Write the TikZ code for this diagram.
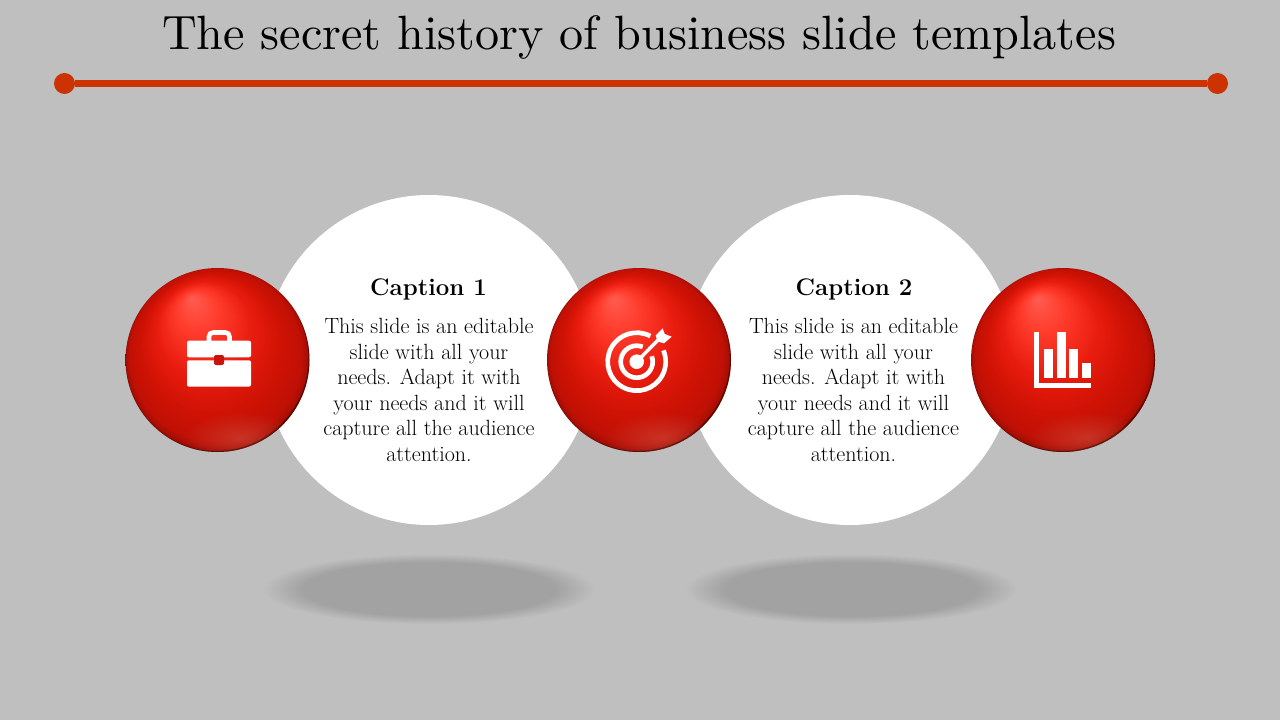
\documentclass[tikz,border=0pt]{standalone}
\usepackage{fontspec}
\newfontfamily\titlefont{lmroman10-regular.otf}
\usetikzlibrary{fadings}
\definecolor{slidegray}{HTML}{BFBFBF}
\definecolor{rulered}{HTML}{CC3300}
\definecolor{shadowgray}{HTML}{A2A2A2}
\definecolor{claspred}{HTML}{C8140A}
\definecolor{ballhigh}{HTML}{FF5C50}
\definecolor{ballglow}{HTML}{FF3A2A}
\definecolor{ballmid}{HTML}{E81C0E}
\definecolor{ballbase}{HTML}{CF1204}
\definecolor{ballside}{HTML}{C01005}
\definecolor{ballrim}{HTML}{A80E04}
\definecolor{balledge}{HTML}{7A0A02}
\definecolor{ballbottom}{HTML}{D05040}
\pgfdeclareradialshading{ballshade}{\pgfpoint{-7bp}{17bp}}{
  color(0bp)=(ballhigh);
  color(6bp)=(ballglow);
  color(13bp)=(ballmid);
  color(19bp)=(ballbase);
  color(23.4bp)=(ballside);
  color(24.6bp)=(ballrim);
  color(25.2bp)=(balledge);
  color(25.5bp)=(balledge)}
\pgfdeclareradialshading{softshade}{\pgfpointorigin}{
  color(0bp)=(white);
  color(19bp)=(white);
  color(25bp)=(black);
  color(50bp)=(black)}
\pgfdeclarefading{softedge}{\pgfuseshading{softshade}}
\tikzfading[name=glowfade, inner color=transparent!45, outer color=transparent!100]
\tikzset{
  floorshadow/.style={shadowgray, path fading=softedge, fit fading},
  bottomglow/.style={ballbottom, path fading=glowfade, fit fading},
  ball/.style={circle, minimum size=138pt, inner sep=0pt, shading=ballshade, draw=none},
  ballcrescent/.style={black, opacity=.35, even odd rule},
  bigdisc/.style={circle, fill=white, minimum size=247.5pt, inner sep=0pt},
  endpoint/.style={circle, fill=rulered, minimum size=15.75pt, inner sep=0pt},
  capttext/.style={font=\fontsize{18}{22}\selectfont\bfseries, align=center},
  bodytext/.style={font=\fontsize{16.5}{19.2}\selectfont, align=center},
  icon/.style={fill=white, draw=none}
}
\begin{document}
\begin{tikzpicture}[x=.75pt, y=-.75pt]
    \fill [slidegray] (0,0) rectangle (1280,720);
    \useasboundingbox (0,0) rectangle (1280,720);

    % title and rule
    \node (title) at (639,37) {\titlefont\fontsize{36.1}{44}\selectfont The secret history of business slide templates};
    \node [endpoint] (ruleleft) at (64.5,83.5) {};
    \node [endpoint] (ruleright) at (1217.5,83.5) {};
    \draw [rulered, line width=5.25pt] (ruleleft) -- (ruleright);

    % shadows on the floor
    \fill [floorshadow] (429,589) ellipse (165 and 35);
    \fill [floorshadow] (851,589) ellipse (165 and 35);

    % white discs
    \node [bigdisc] (discone) at (429,360) {};
    \node [bigdisc] (disctwo) at (850,360) {};

    % red balls
    \node [ball] (ballone) at (217.5,360) {};
    \node [ball] (balltwo) at (639,360) {};
    \node [ball] (ballthree) at (1063,360) {};
    \begin{scope}
      \clip (217.5,360) circle (92);
      \fill [bottomglow] (241,438) ellipse (58 and 26);
      \fill [ballcrescent] (217.5,360) circle (93) (216,358.5) circle (92.5);
    \end{scope}
    \begin{scope}
      \clip (639,360) circle (92);
      \fill [bottomglow] (662,438) ellipse (58 and 26);
      \fill [ballcrescent] (639,360) circle (93) (637.5,358.5) circle (92.5);
    \end{scope}
    \begin{scope}
      \clip (1063,360) circle (92);
      \fill [bottomglow] (1086,438) ellipse (58 and 26);
      \fill [ballcrescent] (1063,360) circle (93) (1061.5,358.5) circle (92.5);
    \end{scope}

    % captions
    \node [capttext] (captone) at (428.5,289) {Caption 1};
    \node [bodytext] (bodyone) at (429,390) {This slide is an editable\\slide with all your\\needs. Adapt it with\\your needs and it will\\capture all the audience\\attention.};
    \node [capttext] (capttwo) at (854,289) {Caption 2};
    \node [bodytext] (bodytwo) at (853.5,390) {This slide is an editable\\slide with all your\\needs. Adapt it with\\your needs and it will\\capture all the audience\\attention.};

    % briefcase
    \draw [white, line width=3.4pt, rounded corners=3pt] (209,341) -- (209,332.5) -- (229.5,332.5) -- (229.5,341);
    \fill [icon, rounded corners=1.5pt] (187,340.7) rectangle (251,357.3);
    \fill [icon, rounded corners=1.5pt] (187,360.3) rectangle (251,386.7);
    \fill [claspred, rounded corners=1.5pt] (214,355) rectangle (224,365);

    % target
    \fill [icon] (636.7,361.7) circle (7.3);
    \draw [white, line width=3.5pt] (636.7,361.7) ++(-68:16) arc (-68:-380:16);
    \draw [white, line width=3.5pt] (636.7,361.7) ++(-62:29) arc (-62:-383:29);
    \draw [white, line width=2.6pt] (636.7,361.7) -- (660,338);
    \fill [icon] (655.7,335.3) -- (662.7,328.3) -- (664.7,334) -- (671.7,336.7) -- (664,343.3) -- (657.5,341.5) -- cycle;

    % bar chart
    \fill [icon] (1034,331.7) rectangle (1039,388.3);
    \fill [icon] (1034,383.3) rectangle (1091,388.3);
    \fill [icon] (1044.3,349) rectangle (1053,378.3);
    \fill [icon] (1056.7,331.7) rectangle (1065.7,378.3);
    \fill [icon] (1069.3,349) rectangle (1078.3,378.3);
    \fill [icon] (1082,363.3) rectangle (1091,378.3);
\end{tikzpicture}
\end{document}
